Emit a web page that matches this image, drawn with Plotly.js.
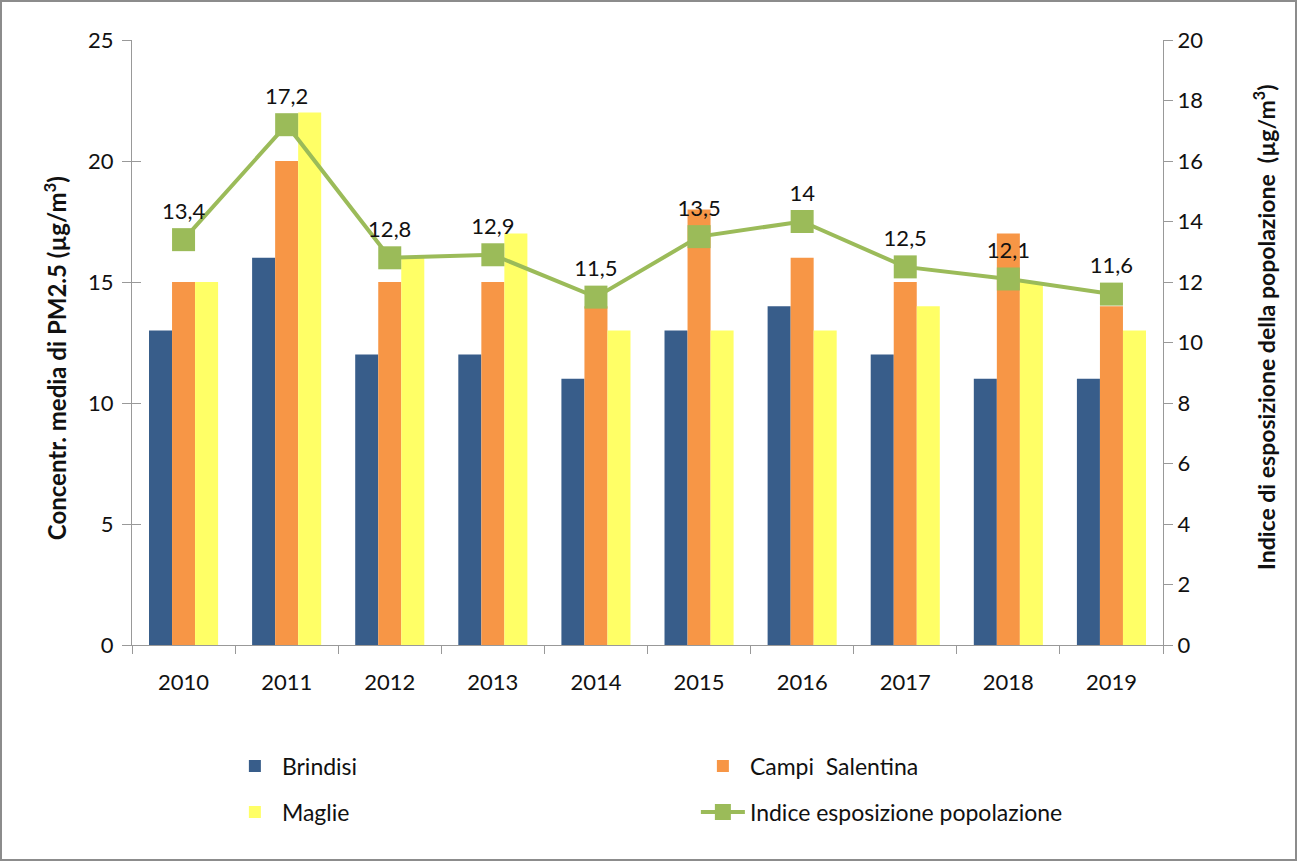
<!DOCTYPE html>
<html>
<head>
<meta charset="utf-8">
<script src="https://cdn.plot.ly/plotly-3.0.1.min.js"></script>
<style>
html,body{margin:0;padding:0;background:#fff;}
#wrap{position:relative;width:1297px;height:861px;}
#chart{width:1297px;height:861px;}
#frame{position:absolute;left:0;top:0;width:1297px;height:861px;box-sizing:border-box;border:2px solid #8c8c8c;pointer-events:none;}
</style>
</head>
<body>
<div id="wrap"><div id="chart"></div><div id="frame"></div></div>
<script>
const years = ['2010','2011','2012','2013','2014','2015','2016','2017','2018','2019'];
const brindisi = [13,16,12,12,11,13,14,12,11,11];
const campi = [15,20,15,15,14,18,16,15,17,14];
const maglie = [15,22,16,17,13,13,13,14,15,13];
const indice = [13.4,17.2,12.8,12.9,11.5,13.5,14,12.5,12.1,11.6];
const indiceLabels = indice.map(v => String(v).replace('.', ','));
const leftTicks = [0,5,10,15,20,25];
const rightTicks = [0,2,4,6,8,10,12,14,16,18,20];
const leftTitle = '<b>Concentr. media di PM2.5 (µg/m<sup>3</sup>)</b>';
const rightTitle = '<b>Indice di esposizione della popolazione  (µg/m<sup>3</sup>)</b>';

const FONT = 'Lato, "Open Sans", sans-serif';

const traces = [
  {type:'bar', name:'Brindisi', x:years, y:brindisi, marker:{color:'#385D8A'}, legend:'legend'},
  {type:'bar', name:'Campi  Salentina', x:years, y:campi, marker:{color:'#F79646'}, legend:'legend'},
  {type:'bar', name:'Maglie', x:years, y:maglie, marker:{color:'#FFFF66'}, legend:'legend2'},
  {type:'scatter', mode:'lines+markers+text', name:'Indice esposizione popolazione',
   x:years, y:indice, yaxis:'y2', text:indiceLabels, textposition:'top center',
   textfont:{size:22, color:'#111', family:FONT}, legend:'legend2',
   line:{color:'#9BBB59', width:4}, marker:{color:'#9BBB59', symbol:'square', size:23}}
];

const legendBase = {orientation:'h', xanchor:'left', yanchor:'middle',
  entrywidth:409, entrywidthmode:'pixels', traceorder:'normal', itemwidth:44,
  font:{size:23, family:FONT, color:'#111'}, bgcolor:'rgba(0,0,0,0)', borderwidth:0};

const layout = {
  width:1297, height:861,
  margin:{l:132, r:134, t:40, b:216, autoexpand:false},
  paper_bgcolor:'#fff', plot_bgcolor:'#fff',
  font:{family:FONT, size:22, color:'#111'},
  barmode:'group', bargap:0.33, bargroupgap:0,
  showlegend:true,
  legend:Object.assign({}, legendBase, {x:0.093, y:-0.2}),
  legend2:Object.assign({}, legendBase, {x:0.093, y:-0.276}),
  xaxis:{type:'category', range:[-0.5, 9.5], showline:true, linecolor:'#999', linewidth:1,
    ticks:'outside', tickson:'boundaries', ticklen:8, tickcolor:'#999', ticklabelstandoff:18,
    tickfont:{size:22, color:'#111'}, showgrid:false, fixedrange:true},
  yaxis:{range:[0,25], tickvals:leftTicks, showline:true, linecolor:'#999', linewidth:1,
    ticks:'outside', ticklen:9, tickcolor:'#999', showgrid:false, zeroline:false,
    ticklabelstandoff:4, tickfont:{size:22, color:'#111'}},
  yaxis3:{range:[0,25], tickvals:leftTicks, overlaying:'y', side:'left', showline:false,
    ticks:'inside', ticklen:9, tickcolor:'#999', showticklabels:false, showgrid:false, zeroline:false},
  yaxis2:{range:[0,20], tickvals:rightTicks, overlaying:'y', side:'right',
    showline:true, linecolor:'#999', linewidth:1, ticks:'outside', ticklen:9, tickcolor:'#999',
    showgrid:false, zeroline:false, tickfont:{size:22, color:'#111'}},
  annotations:[
    {text:leftTitle, xref:'paper', yref:'paper', x:-77/1031, y:0.474, xanchor:'center', yanchor:'middle',
     textangle:-90, showarrow:false, font:{size:24, color:'#111', family:FONT}},
    {text:rightTitle, xref:'paper', yref:'paper', x:1+102/1031, y:0.524, xanchor:'center', yanchor:'middle',
     textangle:-90, showarrow:false, font:{size:23, color:'#111', family:FONT}}
  ]
};

// dummy trace to activate the inside-tick overlay axis (no visible marks)
traces.push({type:'scatter', mode:'none', x:[years[0]], y:[0], yaxis:'y3', showlegend:false, hoverinfo:'skip'});

Plotly.newPlot('chart', traces, layout, {displayModeBar:false, staticPlot:true});
</script>
</body>
</html>
